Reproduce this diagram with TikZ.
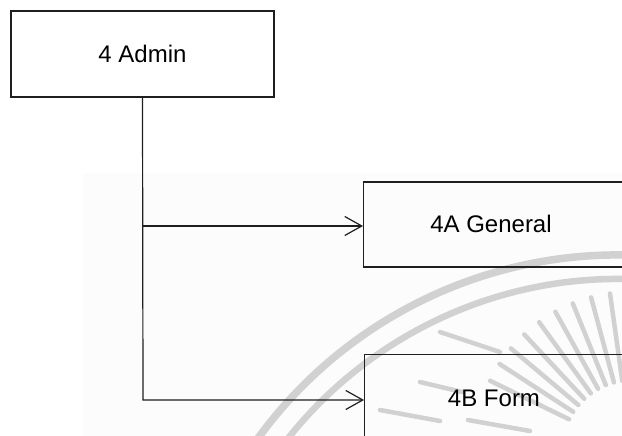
\documentclass[tikz,border=0pt]{standalone}
\usepackage{fontspec}
\setmainfont{Liberation Sans}
\usetikzlibrary{arrows.meta}
\begin{document}
\begin{tikzpicture}[x=1pt,y=-1pt,
  box/.style={draw=black!88, line width=1.2pt, inner sep=0pt},
  lbl/.style={font=\fontsize{24}{28}\selectfont, inner sep=0pt},
  link/.style={draw=black!88, line width=1.2pt, -{Straight Barb[length=17pt,width=19pt]}},
  wm/.style={draw=black!18, line width=7.5pt},
  ray/.style={draw=black!18, line width=4.5pt, line cap=round}]
\useasboundingbox (0,0) rectangle (622,436);
\fill[black!1.2] (83,173) rectangle (622,436);
% watermark
\draw[wm] (618,700) ++(200:445) arc[start angle=200, end angle=285, radius=445];
\draw[wm, line width=6.5pt] (618,700) ++(200:421) arc[start angle=200, end angle=285, radius=421];
\foreach \a in {206,213,...,276} {
  \draw[ray] (632,450) ++(\a:70) -- ++(\a:88);
}
\draw[ray] (380,410) -- (440,421);
\draw[ray] (420,382) -- (462,392);
\draw[ray] (468,420) -- (530,431);
\draw[ray] (440,332) -- (500,352);
% nodes
\node[box, minimum width=263pt, minimum height=86pt] (admin) at (142.5,54) {};
\node[lbl] (admint) at (142.5,54) {4 Admin};
\node[box, anchor=west, minimum width=300pt, minimum height=85pt] (gen) at (363,224.5) {};
\node[lbl] (gent) at (491,224) {4A General};
\node[box, anchor=north west, minimum width=300pt, minimum height=90pt] (form) at (364,354) {};
\node[lbl] (formt) at (494,398) {4B Form};
% connectors
\coordinate (j1) at (143,226);
\coordinate (j2) at (143,400);
\draw[link] (admin.south) -- (j2) -- (j2 -| form.west);
\draw[link] (j1) -- (j1 -| gen.west);
\end{tikzpicture}
\end{document}
